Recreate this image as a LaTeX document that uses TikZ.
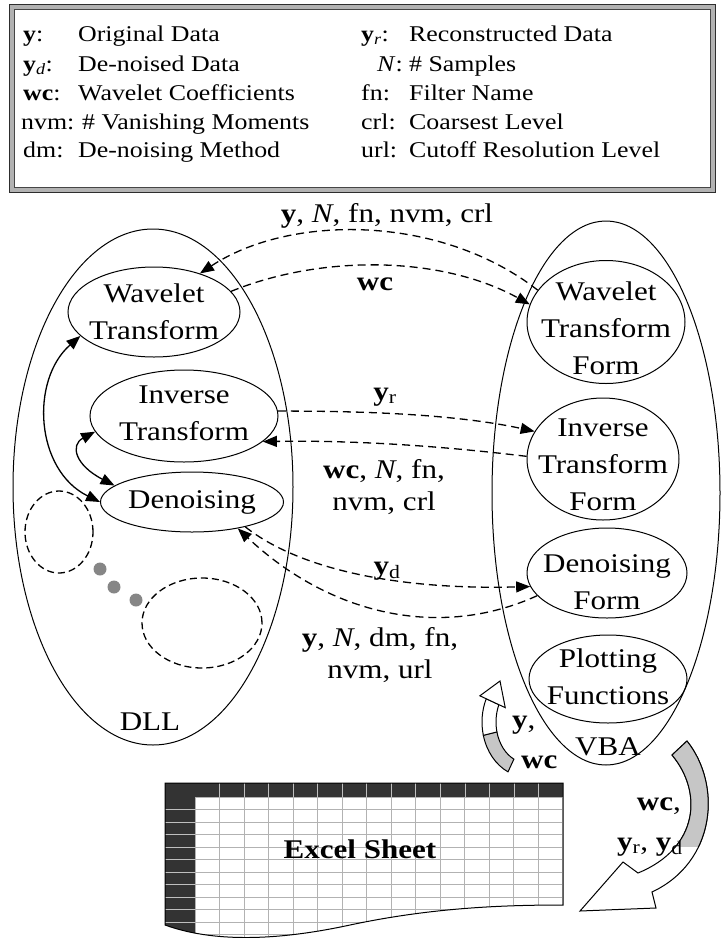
\documentclass[tikz,border=0pt]{standalone}
\usepackage{fontspec}
\setmainfont{Liberation Serif}[FakeStretch=1.15]
\usetikzlibrary{arrows.meta,shapes.geometric,calc}

\begin{document}
\begin{tikzpicture}[x=1pt,y=-1pt,>={Triangle[length=14pt,width=11pt]},every node/.style={font=\fontsize{27}{37}\selectfont,inner sep=0pt},
  oval/.style={ellipse,draw,line width=1pt},keytxt/.style={font=\fontsize{22.5}{29}\selectfont,anchor=base west},
  tag/.style={anchor=base},twoline/.style={align=center,font=\fontsize{27}{32}\selectfont},
  flow/.style={->,line width=1.3pt,dash pattern=on 8pt off 5pt},link/.style={<->,line width=1.3pt},
  hole/.style={ellipse,draw,line width=1.3pt,dash pattern=on 7pt off 4pt},dot/.style={circle,fill=gray!95,minimum size=13pt},
  band/.style={draw,line width=1pt,fill=white},cell/.style={gray!60,line width=1pt}]
\useasboundingbox (0,0) rectangle (721,938);
\draw[gray!60,line width=4.5pt] (11.5,6.5) rectangle (713,189.5);
\draw[gray!35!black,line width=0.8pt] (9,4) rectangle (715.5,192);\draw[gray!55!black,line width=0.6pt] (14,9) rectangle (710.5,187);
\node[keytxt] (k1) at (23,41){\textbf{y}:};\node[keytxt] (d1) at (78,41){Original Data};
\node[keytxt] (k2) at (23,71){\textbf{y}\textsubscript{\textit{d}}:};\node[keytxt] (d2) at (78,71){De-noised Data};
\node[keytxt] (k3) at (23,100){\textbf{wc}:};\node[keytxt] (d3) at (78,100){Wavelet Coefficients};
\node[keytxt] (k4) at (21,129){nvm:};\node[keytxt] (d4) at (82,129){\# Vanishing Moments};
\node[keytxt] (k5) at (23,157){dm:};\node[keytxt] (d5) at (78,157){De-noising Method};
\node[keytxt] (k6) at (361,41){\textbf{y}\textsubscript{\textit{r}}:};\node[keytxt] (d6) at (409,41){Reconstructed Data};
\node[keytxt] (k7) at (377,71){\textit{N}:};\node[keytxt] (d7) at (409,71){\# Samples};
\node[keytxt] (k8) at (361,100){fn:};\node[keytxt] (d8) at (409,100){Filter Name};
\node[keytxt] (k9) at (361,129){crl:};\node[keytxt] (d9) at (409,129){Coarsest Level};
\node[keytxt] (k10) at (361,157){url:};\node[keytxt] (d10) at (409,157){Cutoff Resolution Level};
\node[oval,minimum width=280,minimum height=516] (dll) at (153,487){};\node[tag] (dlltxt) at (150,730){DLL};
\node[oval,minimum width=228,minimum height=544] (vba) at (606,493){};\node[tag] (vbatxt) at (608,755){VBA};
\node[oval,minimum width=172,minimum height=90] (wt) at (154,312){};\node[align=center] (wtt) at (154,312){Wavelet\\Transform};
\node[oval,minimum width=188,minimum height=92] (it) at (184,416){};\node[align=center] (itt) at (184,413){Inverse\\Transform};
\node[oval,minimum width=183,minimum height=60] (dn) at (192,502){};\node (dnt) at (192,502){Denoising};
\node[hole,minimum width=68,minimum height=82] (h1) at (59,532){};\node[hole,minimum width=120,minimum height=90] (h2) at (202,623){};
\node[dot] (p1) at (100,569){};\node[dot] (p2) at (114,587){};\node[dot] (p3) at (136,600){};
\node[oval,minimum width=158,minimum height=123] (wtf) at (606,322){};\node[align=center] (wtft) at (606,328){Wavelet\\Transform\\Form};
\node[oval,minimum width=152,minimum height=122] (itf) at (603,459){};\node[align=center] (itft) at (603,465){Inverse\\Transform\\Form};
\node[oval,minimum width=160,minimum height=90] (dnf) at (607,573){};\node[align=center] (dnft) at (607,582){Denoising\\Form};
\node[oval,minimum width=158,minimum height=88] (pf) at (608,679){};\node[align=center] (pft) at (608,677){Plotting\\Functions};
\draw[link] (wt.198) .. controls (30,380) and (35,470) .. (dn.180);
\draw[link] (it.190) .. controls (70,445) and (75,465) .. (dn.168);
\draw[flow] (wtf.155) .. controls (440,214) and (290,214) .. (wt.40);\node[tag] (l1) at (387,222){\textbf{y}, \textit{N}, fn, nvm, crl};
\draw[flow] (wt.15) .. controls (320,255) and (440,255) .. (wtf.167);\node[tag] (l2) at (375,290){\textbf{wc}};
\draw[flow] (it.3) .. controls (350,411) and (450,413) .. (itf.158);\node[tag] (l3) at (385,400){\textbf{y}\textsubscript{r}};
\draw[flow] (itf.178) .. controls (450,447) and (360,440) .. (it.-18);\node[twoline] (l4) at (384,487){\textbf{wc}, \textit{N}, fn,\\nvm, crl};
\draw[flow] (dn.-25) .. controls (300,570) and (400,590) .. (dnf.190);\node[tag] (l5) at (387,574){\textbf{y}\textsubscript{d}};
\draw[flow] (dnf.198) .. controls (440,640) and (330,615) .. (dn.-30);\node[twoline] (l6) at (380,655){\textbf{y}, \textit{N}, dm, fn,\\nvm, url};
\begin{scope}
\clip (165,783) -- (563,783) -- (563,905) .. controls (500,905) and (430,908) .. (350,925) .. controls (290,938) and (220,945) .. (165,925) -- cycle;
\foreach \r in {797,809.5,...,945} \draw[cell] (165,\r) -- (563,\r);
\foreach \c in {195,219.53,...,564} \draw[cell] (\c,783) -- (\c,945);
\fill[black!80] (165,783) rectangle (195,945);\fill[black!80] (165,783) rectangle (563,797);
\foreach \r in {809.5,822,...,945} \draw[gray!50,line width=0.8pt] (165,\r) -- (195,\r);
\foreach \c in {219.53,244.07,...,564} \draw[gray!50,line width=0.8pt] (\c,783) -- (\c,797);
\end{scope}
\draw[line width=1pt] (165,783) -- (563,783) -- (563,905) .. controls (500,905) and (430,908) .. (350,925) .. controls (290,938) and (220,945) .. (165,925) -- cycle;
\node[tag,font=\bfseries\fontsize{27}{37}\selectfont] (xl) at (360,858){Excel Sheet};
\coordinate (c1) at (527,722);
\draw[band,fill=gray!45] ($(c1)+(115:45 and 55)$) arc[start angle=115,end angle=166,x radius=45,y radius=55] -- ($(c1)+(166:31 and 41)$) arc[start angle=166,end angle=115,x radius=31,y radius=41] -- cycle;
\draw[band] ($(c1)+(166:45 and 55)$) arc[start angle=166,end angle=205,x radius=45,y radius=55] -- ($(c1)+(205:31 and 41)$) arc[start angle=205,end angle=166,x radius=31,y radius=41] -- cycle;
\draw[band] ($(c1)+(205:24 and 34)$) -- ($(c1)+(205:52 and 62)$) -- (500,681) -- cycle;
\node[anchor=base west] (l7) at (512,728){\textbf{y},};\node[anchor=base west] (l8) at (521,768){\textbf{wc}};
\draw[band] (687,741) .. controls (722,785) and (716,862) .. (652,892) -- (656,908) -- (580,911) -- (623,862) -- (638,873) .. controls (699,848) and (703,792) .. (672,755) -- cycle;
\begin{scope}
\clip (600,700) rectangle (730,846);
\draw[band,fill=gray!45] (687,741) .. controls (722,785) and (716,862) .. (652,892) -- (638,873) .. controls (699,848) and (703,792) .. (672,755) -- cycle;
\end{scope}
\node[anchor=base east] (l9) at (681,810){\textbf{wc},};\node[anchor=base east] (l10) at (683,850){\textbf{y}\textsubscript{r}, \textbf{y}\textsubscript{d}};
\end{tikzpicture}
\end{document}
